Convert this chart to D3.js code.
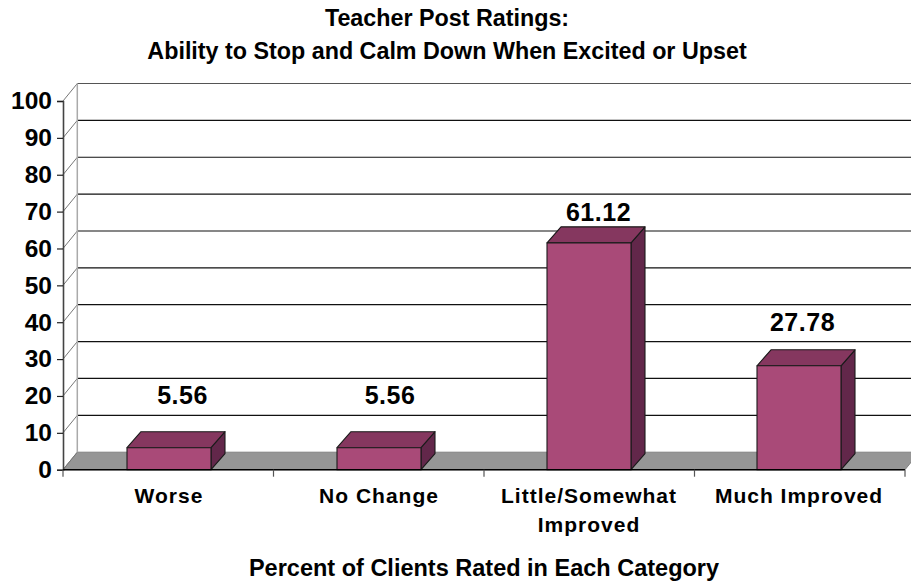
<!DOCTYPE html>
<html><head><meta charset="utf-8">
<script src="https://cdn.jsdelivr.net/npm/d3@7/dist/d3.min.js"></script>
<style>
html,body{margin:0;padding:0;background:#fff}
svg{display:block}
text{font-family:"Liberation Sans",Arial,sans-serif;font-weight:bold;fill:#000}
</style></head><body>
<svg id="c" width="911" height="588"></svg>
<script>
const categories = ["Worse","No Change","Little/Somewhat Improved","Much Improved"];
const values = [5.56,5.56,61.12,27.78];
const yTicks = [0,10,20,30,40,50,60,70,80,90,100];
const titleLines = ["Teacher Post Ratings:","Ability to Stop and Calm Down When Excited or Upset"];
const xTitle = "Percent of Clients Rated in Each Category";

const svg = d3.select("#c");
const wall = {dx:14.3, dy:-17.5}, barDepth = {dx:14, dy:-16};
const x = d3.scaleBand().domain(categories).range([63,905]);
const xBar = d3.scaleBand().domain(categories).range([64,904]);
const y = d3.scaleLinear().domain([0,100]).range([469.7,101]);
const barW = 84, barLift = 1.5;
// label placement relative to each bar, as drawn in the source chart
const labelShift = [13.5,11,9.5,3.5];
const labelGap = [28,28,5.5,19];

// walls / floor
svg.append("polygon")
  .attr("points",[[63,y(0)],[905,y(0)],[905+wall.dx,y(0)+wall.dy],[63+wall.dx,y(0)+wall.dy]].join(" "))
  .attr("fill","#969696").attr("stroke","#808080").attr("stroke-width",1);
const grid = svg.append("g");
yTicks.filter(d=>d>0).forEach(d=>{
  const yb = y(d)+wall.dy;
  grid.append("line").attr("x1",63+wall.dx).attr("x2",911).attr("y1",yb).attr("y2",yb)
    .attr("stroke",d===100?"#555":"#111").attr("stroke-width",1.2);
});
yTicks.forEach(d=>{
  grid.append("line").attr("x1",63).attr("y1",y(d)).attr("x2",63+wall.dx).attr("y2",y(d)+wall.dy)
    .attr("stroke","#777").attr("stroke-width",1);
});
grid.append("line").attr("x1",63+wall.dx).attr("x2",63+wall.dx)
  .attr("y1",y(100)+wall.dy).attr("y2",y(0)+wall.dy).attr("stroke","#aaa").attr("stroke-width",1.5);

// bars
const bars = svg.append("g").selectAll("g").data(categories.map((c,i)=>({c,v:values[i],i}))).join("g");
const bx = d => xBar(d.c)+xBar.bandwidth()/2-barW/2;
const by = d => y(d.v)-barLift;
const stroke = {stroke:"#1a1a1a","stroke-width":1.1,"stroke-linejoin":"round"};
function style(s){Object.entries(stroke).forEach(([k,v])=>s.attr(k,v));return s;}
style(bars.append("polygon").attr("fill","#62274A").attr("points",d=>[
  [bx(d)+barW,by(d)],[bx(d)+barW+barDepth.dx,by(d)+barDepth.dy],
  [bx(d)+barW+barDepth.dx,y(0)+barDepth.dy],[bx(d)+barW,y(0)]].join(" ")));
style(bars.append("polygon").attr("fill","#85375F").attr("points",d=>[
  [bx(d),by(d)],[bx(d)+barDepth.dx,by(d)+barDepth.dy],
  [bx(d)+barW+barDepth.dx,by(d)+barDepth.dy],[bx(d)+barW,by(d)]].join(" ")));
style(bars.append("rect").attr("fill","#A94A78")
  .attr("x",bx).attr("y",by).attr("width",barW).attr("height",d=>y(0)-by(d)));
bars.append("text").attr("x",d=>bx(d)+barW/2+labelShift[d.i])
  .attr("y",d=>by(d)+barDepth.dy-labelGap[d.i])
  .attr("text-anchor","middle").attr("font-size",25).attr("letter-spacing",0.5).text(d=>d.v.toFixed(2));

// y axis
const ay = svg.append("g").attr("transform","translate(63,0)")
  .call(d3.axisLeft(y).tickValues(yTicks).tickSize(6).tickPadding(5).tickFormat(d3.format("d")));
ay.select(".domain").attr("stroke","#444").attr("stroke-width",1.6);
ay.selectAll(".tick line").attr("stroke","#222").attr("stroke-width",1.2);
ay.selectAll("text").attr("font-size",24.5).attr("font-family",'"Liberation Sans",Arial,sans-serif').attr("fill","#000");

// x axis line & boundary ticks
const boundaries = categories.map(c=>x(c)).concat([905]);
svg.append("line").attr("x1",63).attr("x2",905).attr("y1",y(0)).attr("y2",y(0)).attr("stroke","#000").attr("stroke-width",1.5);
svg.append("g").selectAll("line").data(boundaries).join("line")
  .attr("x1",d=>d).attr("x2",d=>d).attr("y1",y(0)).attr("y2",y(0)+7)
  .attr("stroke","#555").attr("stroke-width",1.2);

// category labels
const catLines = {"Little/Somewhat Improved":["Little/Somewhat","Improved"]};
categories.forEach(c=>{
  const lines = catLines[c]||[c];
  const t = svg.append("text").attr("text-anchor","middle").attr("font-size",21).attr("letter-spacing",1);
  lines.forEach((l,i)=>t.append("tspan")
    .attr("x",xBar(c)+xBar.bandwidth()/2)
    .attr("y",503+i*29).text(l));
});

// titles
titleLines.forEach((l,i)=>svg.append("text").attr("x",447).attr("y",26+i*33)
  .attr("text-anchor","middle").attr("font-size",23.3).text(l));
svg.append("text").attr("x",484).attr("y",576).attr("text-anchor","middle").attr("font-size",23.5).text(xTitle);
</script></body></html>
